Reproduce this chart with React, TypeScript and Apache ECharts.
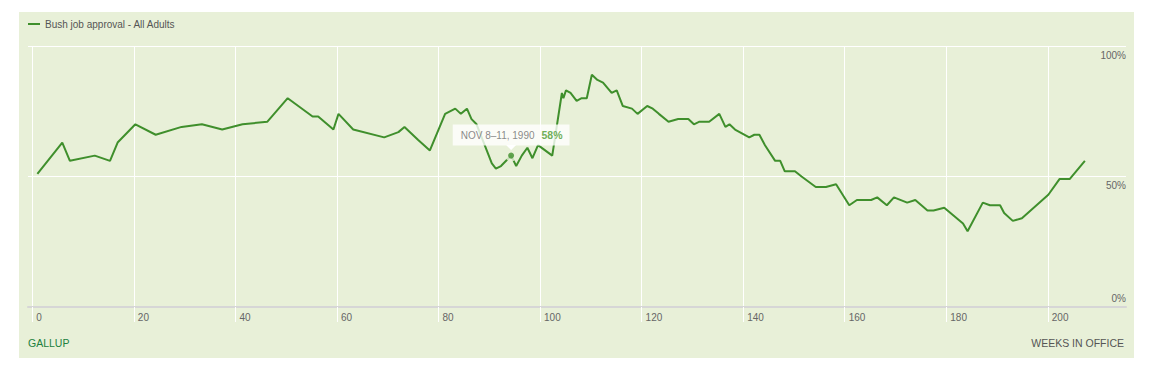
import React, { useEffect, useRef } from 'react';
import * as echarts from 'echarts';

const seriesName = 'Bush job approval - All Adults';

const weeks = [
  1, 5.9, 7.4, 12.3, 15.3, 16.8, 20.3, 24.3, 29.4, 33.4, 37.4, 41.4, 46.3, 50.3,
  55.2, 56.3, 59.3, 60.3, 63.2, 69.3, 72.1, 73.3, 76, 78.3, 81.3, 83.3, 84.4, 85.6,
  86.5, 87.5, 90.5, 91.3, 92.3, 94.3, 95.3, 96.4, 97.5, 98.5, 99.6, 102.4, 104.3,
  104.6, 105.1, 106, 107.2, 108.2, 109.2, 110.2, 111.3, 112.4, 114.1, 115.1, 116.3,
  118.1, 119.2, 121.1, 122.2, 123.4, 125.3, 127.2, 129.2, 130.3, 131.4, 133.3,
  135.3, 136.5, 137.3, 138.4, 141.2, 142.2, 143.2, 144.3, 146.3, 147.3, 148.2,
  150.2, 151.5, 154.3, 156.3, 158.3, 160.9, 162.4, 165.2, 166.4, 168.3, 169.7,
  172.3, 173.9, 176.3, 177.5, 179.6, 183.3, 184.2, 187.2, 188.6, 190.6, 191.4,
  193.1, 194.9, 200.1, 202.3, 204.3, 207.3,
];

const approval = [
  51, 63, 56, 58, 56, 63, 70, 66, 69, 70, 68, 70, 71, 80,
  73, 73, 68, 74, 68, 65, 67, 69, 64, 60, 74, 76, 74, 76,
  72, 70, 55, 53, 54, 58, 54, 58, 61, 57, 62, 58, 82,
  80, 83, 82, 79, 80, 80, 89, 87, 86, 82, 83, 77,
  76, 74, 77, 76, 74, 71, 72, 72, 70, 71, 71,
  74, 69, 70, 68, 65, 66, 66, 62, 56, 56, 52,
  52, 50, 46, 46, 47, 39, 41, 41, 42, 39, 42,
  40, 41, 37, 37, 38, 32, 29, 40, 39, 39, 36,
  33, 34, 43, 49, 49, 56,
];

const xTicks = [0, 20, 40, 60, 80, 100, 120, 140, 160, 180, 200];
const yTicks = [0, 50, 100];

const highlightWeek = 94.3;
const highlightValue = 58;
const highlightDate = 'NOV 8–11, 1990';

const sourceLabel = 'GALLUP';
const xAxisTitle = 'WEEKS IN OFFICE';

const BG = '#e8f0d8';
const LINE = '#3f8f2c';
const FONT = '"Liberation Sans", Arial, Helvetica, sans-serif';

export default function App() {
  const ref = useRef<HTMLDivElement>(null);

  useEffect(() => {
    if (!ref.current) return;
    const chart = echarts.init(ref.current, null, { renderer: 'svg' });
    const lineData = weeks.map((w, i) => [w, approval[i]]);
    const hl = [[highlightWeek, highlightValue]];
    chart.setOption({
      animation: false,
      textStyle: { fontFamily: FONT },
      legend: {
        data: [seriesName],
        left: 9,
        top: 7,
        padding: 0,
        icon: 'rect',
        itemWidth: 12,
        itemHeight: 2,
        selectedMode: false,
        textStyle: { fontSize: 10, color: '#555', fontFamily: FONT },
      },
      grid: { left: 9, right: 8, top: 34, bottom: 51, containLabel: false },
      xAxis: {
        type: 'value',
        min: -0.85,
        max: 215.4,
        axisLine: { show: true, lineStyle: { color: '#d6d6d6', width: 2 } },
        axisTick: {
          show: true,
          customValues: xTicks,
          length: 15,
          lineStyle: { color: '#ffffff', width: 1 },
        },
        axisLabel: {
          customValues: xTicks,
          color: '#666',
          fontSize: 10,
          align: 'left',
          padding: [0, 0, 0, 4],
          margin: 5,
          fontFamily: FONT,
        },
        splitLine: { show: true, lineStyle: { color: '#ffffff', width: 1 } },
      },
      yAxis: [
        {
          type: 'value',
          min: yTicks[0],
          max: yTicks[yTicks.length - 1],
          interval: 50,
          position: 'right',
          axisLine: { show: false },
          axisTick: { show: false },
          splitLine: {
            show: true,
            lineStyle: { color: ['rgba(0,0,0,0)', '#ffffff', '#ffffff'], width: 1 },
          },
          axisLabel: {
            inside: true,
            margin: 0,
            verticalAlign: 'top',
            padding: [4, 0, 0, 0],
            color: '#666',
            fontSize: 10,
            fontFamily: FONT,
            formatter: (v: number) => (v === 0 ? '' : v + '%'),
          },
        },
        {
          type: 'value',
          min: yTicks[0],
          max: yTicks[yTicks.length - 1],
          interval: 50,
          position: 'right',
          axisLine: { show: false },
          axisTick: { show: false },
          splitLine: { show: false },
          axisLabel: {
            inside: true,
            margin: 0,
            verticalAlign: 'bottom',
            padding: [0, 0, 4, 0],
            color: '#666',
            fontSize: 10,
            fontFamily: FONT,
            formatter: (v: number) => (v === 0 ? v + '%' : ''),
          },
        },
      ],
      series: [
        {
          name: seriesName,
          type: 'line',
          data: lineData,
          showSymbol: false,
          symbol: 'none',
          silent: true,
          z: 2,
          lineStyle: { color: LINE, width: 2 },
          itemStyle: { color: LINE },
        },
        {
          type: 'scatter',
          data: hl,
          symbolSize: 12,
          silent: true,
          z: 3,
          itemStyle: { color: BG },
        },
        {
          type: 'scatter',
          data: hl,
          symbolSize: 6,
          silent: true,
          z: 4,
          itemStyle: { color: LINE },
          label: {
            show: true,
            position: 'top',
            distance: 7,
            backgroundColor: '#ffffff',
            padding: [5, 7, 5, 8],
            formatter: (p: any) => `{d|${highlightDate}}{v|${p.value[1]}%}`,
            rich: {
              d: { color: '#6b6b6b', fontSize: 10, fontFamily: FONT, lineHeight: 11 },
              v: {
                color: '#4a9a2e',
                fontSize: 10.5,
                fontWeight: 'bold',
                fontFamily: FONT,
                lineHeight: 11,
                padding: [0, 0, 0, 7],
              },
            },
          },
          markPoint: {
            silent: true,
            symbol: 'triangle',
            symbolSize: [10, 5],
            symbolRotate: 180,
            symbolOffset: [0, -8],
            itemStyle: { color: '#ffffff' },
            label: { show: false },
            data: [{ coord: hl[0] }],
          },
        },
      ],
      graphic: [
        {
          type: 'text',
          x: 9,
          y: 331,
          style: {
            text: sourceLabel,
            fill: '#21803f',
            fontSize: 10.5,
            fontFamily: FONT,
            align: 'left',
            verticalAlign: 'middle',
          },
        },
        {
          type: 'text',
          x: 1105,
          y: 331,
          style: {
            text: xAxisTitle,
            fill: '#555',
            fontSize: 10.5,
            fontFamily: FONT,
            align: 'right',
            verticalAlign: 'middle',
          },
        },
      ],
    });
    return () => chart.dispose();
  }, []);

  return (
    <div style={{ position: 'fixed', left: 0, top: 0, width: 1151, height: 371, background: '#fff' }}>
      <div
        ref={ref}
        style={{ position: 'absolute', left: 19, top: 12, width: 1115, height: 346, background: BG }}
      />
    </div>
  );
}
